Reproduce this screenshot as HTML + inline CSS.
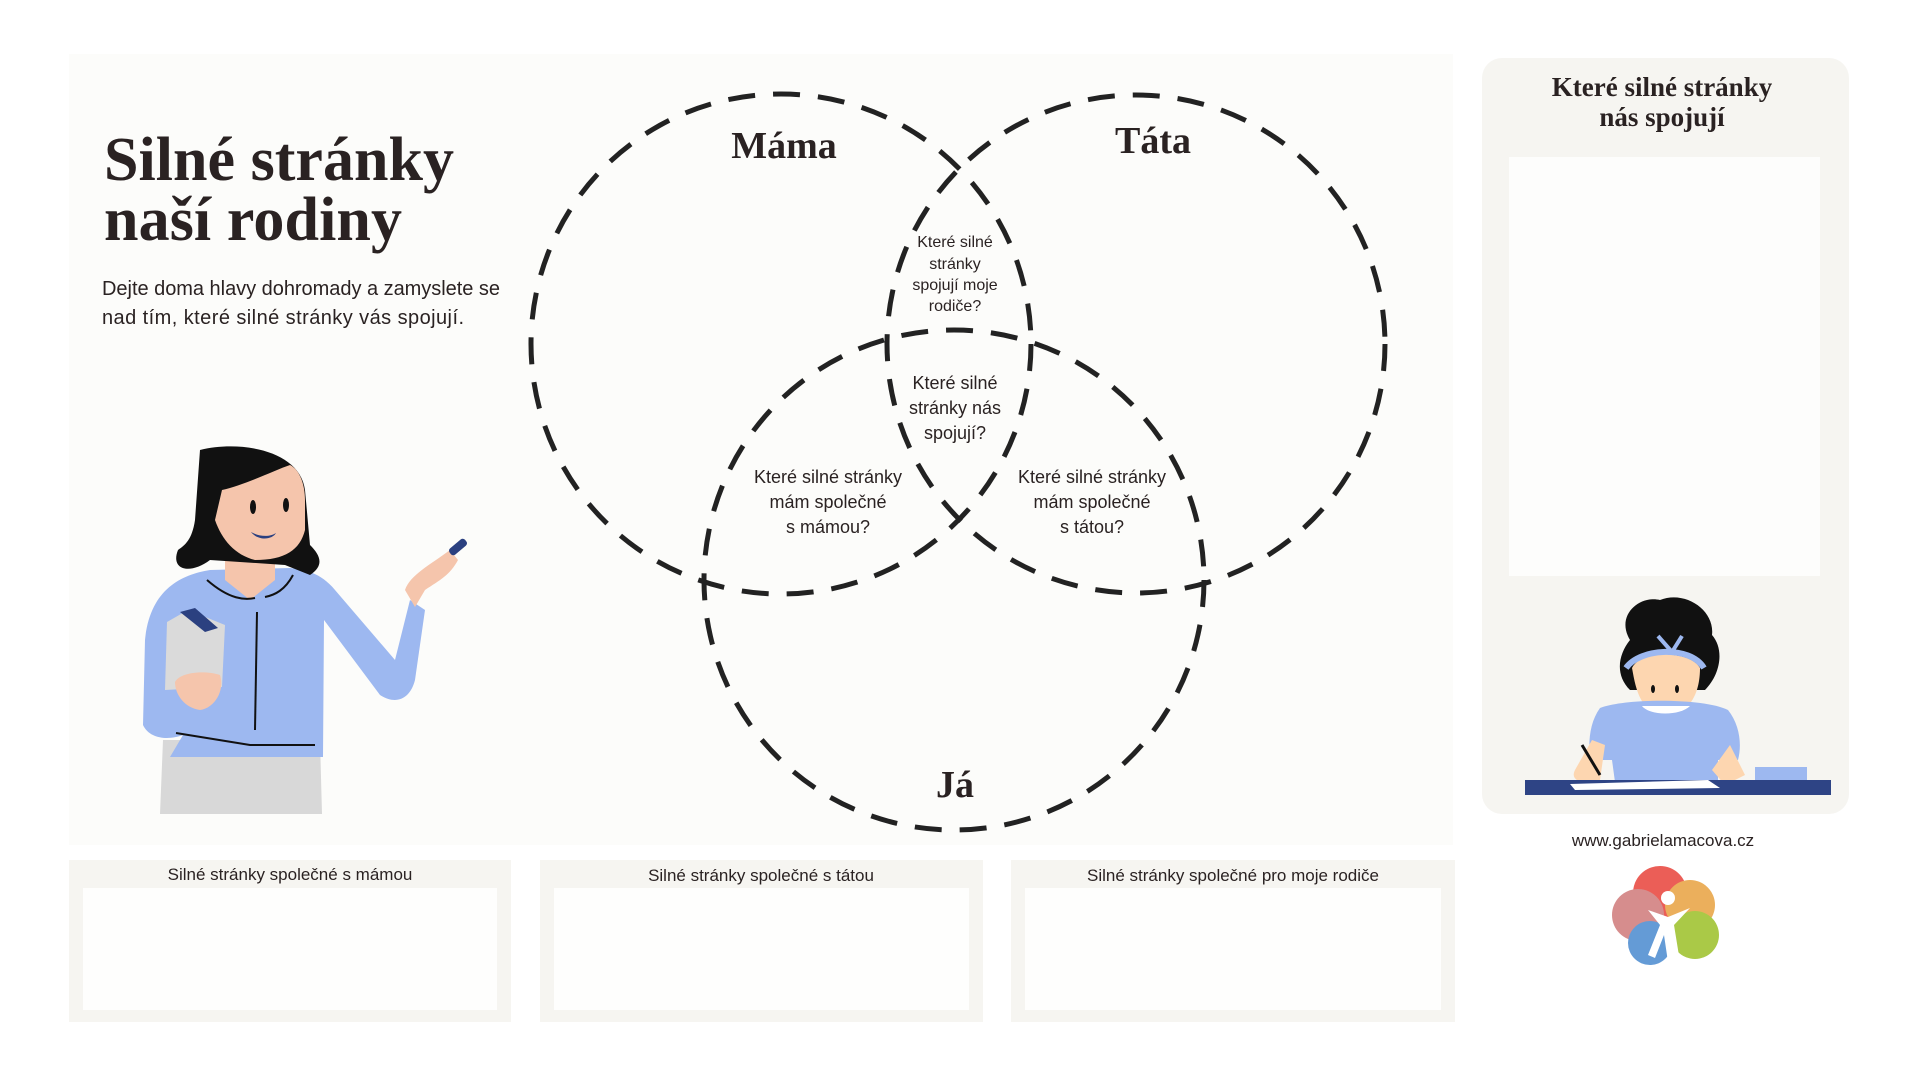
<!DOCTYPE html>
<html><head><meta charset="utf-8"><style>
html,body{margin:0;padding:0;background:#fff;width:1920px;height:1080px;overflow:hidden}
svg{display:block}
text{font-family:"Liberation Sans",sans-serif;fill:#2a2222}
</style></head><body>
<svg width="1920" height="1080" viewBox="0 0 1920 1080" xmlns="http://www.w3.org/2000/svg">
<rect x="0" y="0" width="1920" height="1080" fill="#ffffff"/>
<rect x="69" y="54" width="1384" height="791" fill="#fcfcfa"/>
<rect x="1482" y="58" width="367" height="756" rx="20" fill="#f6f5f1"/>
<rect x="1509" y="157" width="311" height="419" fill="#fdfdfc"/>
<text x="1662" y="96" font-size="27" text-anchor="middle" font-weight="bold" style="font-family:'Liberation Serif',serif">Které silné stránky</text>
<text x="1662" y="126" font-size="27" text-anchor="middle" font-weight="bold" style="font-family:'Liberation Serif',serif">nás spojují</text>

<text x="104" y="180" font-size="62" font-weight="bold" textLength="350" style="font-family:'Liberation Serif',serif">Silné stránky</text>
<text x="104" y="240" font-size="62" font-weight="bold" textLength="298" style="font-family:'Liberation Serif',serif">naší rodiny</text>
<text x="102" y="295" font-size="20" textLength="398">Dejte doma hlavy dohromady a zamyslete se</text>
<text x="102" y="324" font-size="20" textLength="362">nad tím, které silné stránky vás spojují.</text>

<g fill="none" stroke="#222" stroke-width="5" stroke-dasharray="27 18">
<circle cx="781" cy="344" r="250"/>
<circle cx="1136" cy="344" r="249"/>
<circle cx="954" cy="580" r="250"/>
</g>
<g text-anchor="middle" font-weight="bold">
<text x="784" y="158" font-size="38" style="font-family:'Liberation Serif',serif">Máma</text>
<text x="1153" y="153" font-size="38" style="font-family:'Liberation Serif',serif">Táta</text>
<text x="955" y="797" font-size="38" style="font-family:'Liberation Serif',serif">Já</text>
</g>
<g text-anchor="middle" font-size="16">
<text x="955" y="247">Které silné</text>
<text x="955" y="269">stránky</text>
<text x="955" y="290">spojují moje</text>
<text x="955" y="311">rodiče?</text>
</g>
<g text-anchor="middle" font-size="18">
<text x="955" y="389">Které silné</text>
<text x="955" y="414">stránky nás</text>
<text x="955" y="439">spojují?</text>
<text x="828" y="483">Které silné stránky</text>
<text x="828" y="508">mám společné</text>
<text x="828" y="533">s mámou?</text>
<text x="1092" y="483">Které silné stránky</text>
<text x="1092" y="508">mám společné</text>
<text x="1092" y="533">s tátou?</text>
</g>

<g>
<rect x="69" y="860" width="442" height="162" fill="#f6f5f1"/>
<rect x="83" y="888" width="414" height="122" fill="#fefefd"/>
<rect x="540" y="860" width="443" height="162" fill="#f6f5f1"/>
<rect x="554" y="888" width="415" height="122" fill="#fefefd"/>
<rect x="1011" y="860" width="444" height="162" fill="#f6f5f1"/>
<rect x="1025" y="888" width="416" height="122" fill="#fefefd"/>
</g>
<g text-anchor="middle" font-size="17">
<text x="290" y="880">Silné stránky společné s mámou</text>
<text x="761" y="881">Silné stránky společné s tátou</text>
<text x="1233" y="881">Silné stránky společné pro moje rodiče</text>
</g>
<text x="1663" y="846" font-size="17" text-anchor="middle">www.gabrielamacova.cz</text>

<g opacity="0.85">
<circle cx="1660" cy="893" r="27" fill="#e8423a"/>
<circle cx="1690" cy="905" r="25" fill="#e8a240"/>
<circle cx="1638" cy="915" r="26" fill="#d07a7a"/>
<circle cx="1695" cy="935" r="24" fill="#9cc028"/>
<circle cx="1650" cy="943" r="22" fill="#4a8ad0"/>
</g>
<circle cx="1668" cy="898" r="7" fill="#fff"/>
<path d="M1648 910 L1668 917 L1690 908 L1674 925 L1680 962 L1668 962 L1664 935 L1655 958 L1648 955 L1660 925 Z" fill="#fff"/>

<!-- woman -->
<g>
<path d="M163 740 L320 740 L322 814 L160 814 Z" fill="#d8d8d8"/>
<path d="M210 570 C180 575 150 590 145 640 L143 725 C150 740 170 740 183 735 L170 757 L323 757 L324 620 L380 695 C395 705 410 700 415 680 L425 610 L410 600 L395 660 L335 590 C320 572 305 570 290 568 Z" fill="#9db8f0"/>
<path d="M225 560 L275 560 L275 580 L250 600 L225 580 Z" fill="#f5c5ac"/>
<path d="M415 607 L405 590 C410 575 430 565 450 550 L458 560 C450 575 440 580 425 590 Z" fill="#f5c5ac"/>
<rect x="448" y="543" width="20" height="8" rx="3" transform="rotate(-40 458 547)" fill="#2b4080"/>
<path d="M167 622 L188 610 L225 625 L222 687 L165 690 Z" fill="#dadada"/>
<path d="M180 612 L195 608 L218 628 L205 632 Z" fill="#2b4080"/>
<path d="M175 682 C180 672 205 670 220 675 C225 690 215 708 200 710 C185 708 175 695 175 682 Z" fill="#f5c5ac"/>
<path d="M200 450 C240 440 300 450 305 490 L310 545 C320 555 325 565 310 575 L285 565 L210 560 C190 575 170 570 178 550 C185 545 192 540 195 520 Z" fill="#111"/>
<path d="M222 490 C245 485 275 470 290 465 C300 470 305 485 305 500 L305 530 C300 550 285 560 255 560 C235 555 222 540 215 520 Z" fill="#f5c5ac"/>
<ellipse cx="253" cy="507" rx="3" ry="7" fill="#111"/>
<ellipse cx="286" cy="505" rx="3" ry="7" fill="#111"/>
<path d="M251 532 C260 537 270 537 276 533 C272 540 258 541 251 532 Z" fill="#2b4080"/>
<g stroke="#111" stroke-width="2" fill="none">
<path d="M207 580 C230 600 245 600 255 598"/>
<path d="M293 575 C285 590 275 595 265 597"/>
<path d="M257 612 L255 730"/>
<path d="M176 733 L250 745 L315 745"/>
</g>
</g>

<!-- girl -->
<g>
<path d="M1630 640 C1615 615 1640 595 1660 600 C1685 590 1715 610 1712 635 C1725 650 1720 675 1705 690 L1630 690 C1615 675 1618 655 1630 640 Z" fill="#111"/>
<path d="M1632 668 C1636 690 1640 712 1665 716 C1692 714 1700 690 1700 668 C1690 650 1640 650 1632 668 Z" fill="#fdd6b0"/>
<path d="M1626 668 C1640 648 1690 645 1704 668" stroke="#9db8f0" stroke-width="6" fill="none"/>
<path d="M1658 636 L1672 652 L1682 636" stroke="#9db8f0" stroke-width="4" fill="none"/>
<ellipse cx="1653" cy="689" rx="2" ry="4" fill="#111"/>
<ellipse cx="1677" cy="689" rx="2" ry="4" fill="#111"/>
<path d="M1658 703 C1663 707 1670 707 1674 703" stroke="#111" stroke-width="2" fill="none"/>
<path d="M1600 708 C1625 698 1705 698 1728 710 C1740 725 1742 745 1738 760 L1718 760 L1718 782 L1615 782 L1612 760 L1590 760 C1588 740 1590 722 1600 708 Z" fill="#9db8f0"/>
<path d="M1642 706 C1650 716 1680 716 1690 706 Z" fill="#fff"/>
<path d="M1592 740 L1575 770 C1570 780 1580 785 1600 780 L1605 745 Z" fill="#fdd6b0"/>
<path d="M1730 745 L1745 775 L1725 785 L1712 770 Z" fill="#fdd6b0"/>
<rect x="1755" y="767" width="52" height="13" fill="#9db8f0"/>
<rect x="1525" y="780" width="306" height="15" fill="#2e4485"/>
<path d="M1570 784 L1708 780 L1720 788 L1575 790 Z" fill="#fff"/>
<path d="M1582 745 L1600 775" stroke="#111" stroke-width="3"/>
</g>
</svg>
</body></html>
